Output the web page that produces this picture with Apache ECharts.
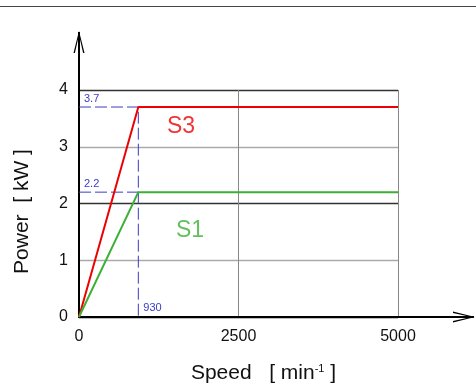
<!DOCTYPE html>
<html>
<head>
<meta charset="utf-8">
<script src="https://cdn.jsdelivr.net/npm/echarts@6/dist/echarts.min.js"></script>
<style>
  html, body { margin: 0; padding: 0; background: #fff; }
  #chart { width: 476px; height: 390px; }
</style>
</head>
<body>
<div id="chart"></div>
<script>
// speed [min-1] / power [kW]
const s3Speed = [0, 930, 5000];
const s3Power = [0, 3.7, 3.7];
const s1Speed = [0, 930, 5000];
const s1Power = [0, 2.2, 2.2];

// blue helper lines at the corner point
const cornerSpeed = 930;
const cornerS3 = 3.7;
const cornerS1 = 2.2;

const curveNames = ["S3", "S1"];
const curveLabelPos = [[1600, 3.35], [1740, 1.52]];

const xTicks = [0, 2500, 5000];
const yTicks = [0, 1, 2, 3, 4];

const font = "Liberation Sans, Arial, sans-serif";
const blue = "#3a3acc";
const arrow = "path://M5.5,0 L11,22 L9.6,22 L5.5,4 L1.4,22 L0,22 Z M4.5,1 L6.5,1 L6.5,22 L4.5,22 Z";

const zip = (xs, ys) => xs.map((x, i) => [x, ys[i]]);

const chart = echarts.init(document.getElementById("chart"));
chart.setOption({
  animation: false,
  graphic: [
    {
      type: "line",
      shape: { x1: 0, y1: 6.5, x2: 476, y2: 6.5 },
      style: { stroke: "#444", lineWidth: 1 }
    }
  ],
  grid: [
    // plot box
    { left: 79, top: 90, width: 319, height: 227 },
    // axes with arrows
    { left: 79, top: 42, width: 385, height: 275 }
  ],
  xAxis: [
    {
      gridIndex: 0,
      type: "value",
      min: xTicks[0],
      max: xTicks[xTicks.length - 1],
      interval: 2500,
      axisLine: { show: false },
      axisTick: { show: false },
      axisLabel: {
        fontFamily: font, fontSize: 16, color: "#111", margin: 12,
        formatter: (v) => String(v)
      },
      splitLine: { lineStyle: { color: ["#000", "#888", "#888"], width: 1 } },
      name: "{a|Speed   [ min}{s|-1}{a| ]}",
      nameLocation: "middle",
      nameGap: 46,
      nameTextStyle: {
        padding: [0, 0, 0, 50],
        rich: {
          a: { fontFamily: font, fontSize: 21, color: "#111" },
          s: { fontFamily: font, fontSize: 11, color: "#111", verticalAlign: "top", padding: [0, 0, 6, 0] }
        }
      }
    },
    {
      gridIndex: 1,
      type: "value",
      min: 0,
      max: 1,
      axisLine: {
        lineStyle: { color: "#000", width: 2 },
        symbol: ["none", arrow],
        symbolSize: [11, 22]
      },
      axisTick: { show: false },
      axisLabel: { show: false },
      splitLine: { show: false }
    }
  ],
  yAxis: [
    {
      gridIndex: 0,
      type: "value",
      min: yTicks[0],
      max: yTicks[yTicks.length - 1],
      interval: 1,
      axisLine: { show: false },
      axisTick: { show: false },
      axisLabel: { fontFamily: font, fontSize: 16, color: "#111", margin: 11 },
      splitLine: { lineStyle: { color: ["#000", "#aaa", "#333", "#aaa", "#333"], width: 1.3 } },
      name: "Power  [ kW ]",
      nameLocation: "middle",
      nameGap: 46,
      nameTextStyle: { fontFamily: font, fontSize: 21, color: "#111", padding: [0, 16, 0, 0] }
    },
    {
      gridIndex: 1,
      type: "value",
      min: 0,
      max: 1,
      axisLine: {
        lineStyle: { color: "#000", width: 2 },
        symbol: ["none", arrow],
        symbolSize: [11, 22]
      },
      axisTick: { show: false },
      axisLabel: { show: false },
      splitLine: { show: false }
    }
  ],
  series: [
    {
      type: "line",
      name: "S3 guide",
      data: [
        {
          value: [0, cornerS3],
          label: {
            show: true, formatter: String(cornerS3), position: "top", align: "left",
            offset: [5, 0], distance: 3, fontFamily: font, fontSize: 11, color: blue
          }
        },
        [cornerSpeed, cornerS3],
        {
          value: [cornerSpeed, 0],
          label: {
            show: true, formatter: String(cornerSpeed), position: "top", align: "left",
            offset: [5, 0], distance: 4, fontFamily: font, fontSize: 11, color: blue
          }
        }
      ],
      symbol: "circle",
      symbolSize: 0,
      lineStyle: { color: blue, width: 1, type: [12, 4] },
      itemStyle: { color: blue },
      z: 2
    },
    {
      type: "line",
      name: "S1 guide",
      data: [
        {
          value: [0, cornerS1],
          label: {
            show: true, formatter: String(cornerS1), position: "top", align: "left",
            offset: [5, 0], distance: 3, fontFamily: font, fontSize: 11, color: blue
          }
        },
        [cornerSpeed, cornerS1]
      ],
      symbol: "circle",
      symbolSize: 0,
      lineStyle: { color: blue, width: 1, type: [12, 4] },
      itemStyle: { color: blue },
      z: 2
    },
    {
      type: "line",
      name: "S3",
      data: zip(s3Speed, s3Power),
      showSymbol: false,
      lineStyle: { color: "#ee0000", width: 2 },
      itemStyle: { color: "#ee0000" },
      z: 3
    },
    {
      type: "line",
      name: "S1",
      data: zip(s1Speed, s1Power),
      showSymbol: false,
      lineStyle: { color: "#3cb034", width: 2 },
      itemStyle: { color: "#3cb034" },
      z: 3
    },
    {
      type: "scatter",
      name: "curve labels",
      data: curveLabelPos.map((p, i) => ({
        value: p,
        label: { color: i === 0 ? "#ee0000" : "#3cb034" },
        name: curveNames[i]
      })),
      symbolSize: 0,
      label: {
        show: true,
        position: "inside",
        formatter: (p) => p.name,
        fontFamily: font,
        fontSize: 23
      },
      z: 4
    }
  ]
});
</script>
</body>
</html>
